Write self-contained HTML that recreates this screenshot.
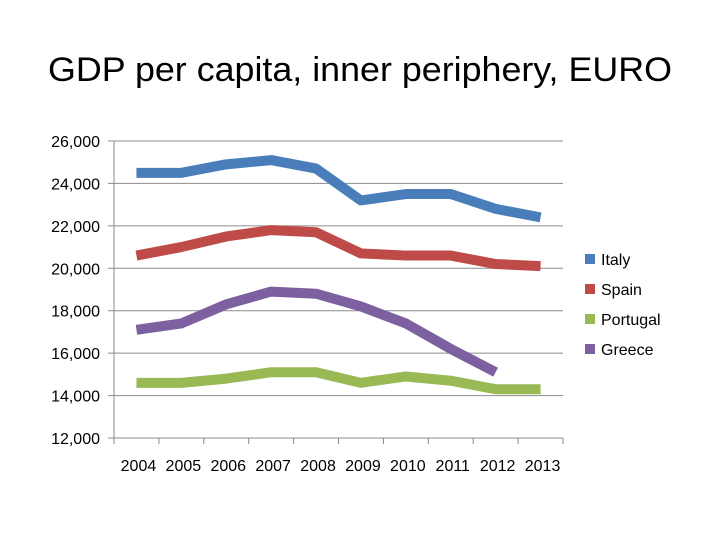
<!DOCTYPE html>
<html><head><meta charset="utf-8"><style>
body{margin:0;background:#fff;}
svg{display:block;font-family:"Liberation Sans","DejaVu Sans",sans-serif;}
</style></head><body>
<svg id="chart" width="720" height="540">
<text x="360" y="81" text-anchor="middle" font-size="34" textLength="624" lengthAdjust="spacingAndGlyphs" fill="#000">GDP per capita, inner periphery, EURO</text>
<g id="grid"></g><g id="axes"></g><g id="series"></g><g id="legend"></g>
</svg>
<script>
const years=["2004","2005","2006","2007","2008","2009","2010","2011","2012","2013"];
const yTicks=[12000,14000,16000,18000,20000,22000,24000,26000];
const italy=[24500,24500,24900,25100,24700,23200,23500,23500,22800,22400];
const spain=[20600,21000,21500,21800,21700,20700,20600,20600,20200,20100];
const portugal=[14600,14600,14800,15100,15100,14600,14900,14700,14300,14300];
const greece=[17100,17400,18300,18900,18800,18200,17400,16200,15100,null];
const seriesNames=["Italy","Spain","Portugal","Greece"];
const seriesData=[italy,spain,portugal,greece];
const colors=["#4a7ebb","#be4b48","#98b954","#7d60a0"];
const ns="http://www.w3.org/2000/svg";
const x0=114,x1=563,yTop=141,yBot=438,yMin=12000,yMax=26000;
const band=(x1-x0)/years.length;
function xs(i){return x0+band*(i+0.5);}
function ys(v){return yBot-(v-yMin)/(yMax-yMin)*(yBot-yTop);}
function mk(tag,attrs,parent){const e=document.createElementNS(ns,tag);for(const k in attrs)e.setAttribute(k,attrs[k]);parent.appendChild(e);return e;}
const grid=document.getElementById('grid'),axes=document.getElementById('axes'),ser=document.getElementById('series'),leg=document.getElementById('legend');
yTicks.forEach(t=>{
  const y=ys(t);
  const l=mk('line',{x1:108,x2:x1,y1:y,y2:y,stroke:'#8c8c8c','stroke-width':1},grid);
  
  
  const tx=mk('text',{x:100,y:y+6,'text-anchor':'end','font-size':16,fill:'#000'},axes);
  tx.textContent=t.toLocaleString('en-US');
  
  
});
const ya=mk('line',{x1:x0,x2:x0,y1:yTop,y2:yBot,stroke:'#888'},axes);


years.forEach((yr,i)=>{
  const xt=x0+band*(i+1);
  mk('line',{x1:xt,x2:xt,y1:yBot,y2:yBot+6,stroke:'#888'},axes);
  const tx=mk('text',{x:xs(i)+2,y:471,'text-anchor':'middle','font-size':16,fill:'#000'},axes);
  tx.textContent=yr;
  
  
});
mk('line',{x1:x0,x2:x0,y1:yBot,y2:yBot+6,stroke:'#888'},axes);
seriesData.forEach((d,s)=>{
  const pts=[];d.forEach((v,i)=>{if(v!==null)pts.push(xs(i)+','+ys(v));});
  const p=mk('polyline',{points:pts.join(' '),fill:'none',stroke:colors[s],'stroke-width':10,'stroke-linejoin':'round'},ser);
  
  
  const ly=259+s*30;
  const r=mk('rect',{x:585,y:ly-5,width:10,height:10,fill:colors[s]},leg);
  
  
  const t=mk('text',{x:601,y:ly+6,'font-size':16,fill:'#000'},leg);
  t.textContent=seriesNames[s];
  
  
});
</script>
</body></html>
